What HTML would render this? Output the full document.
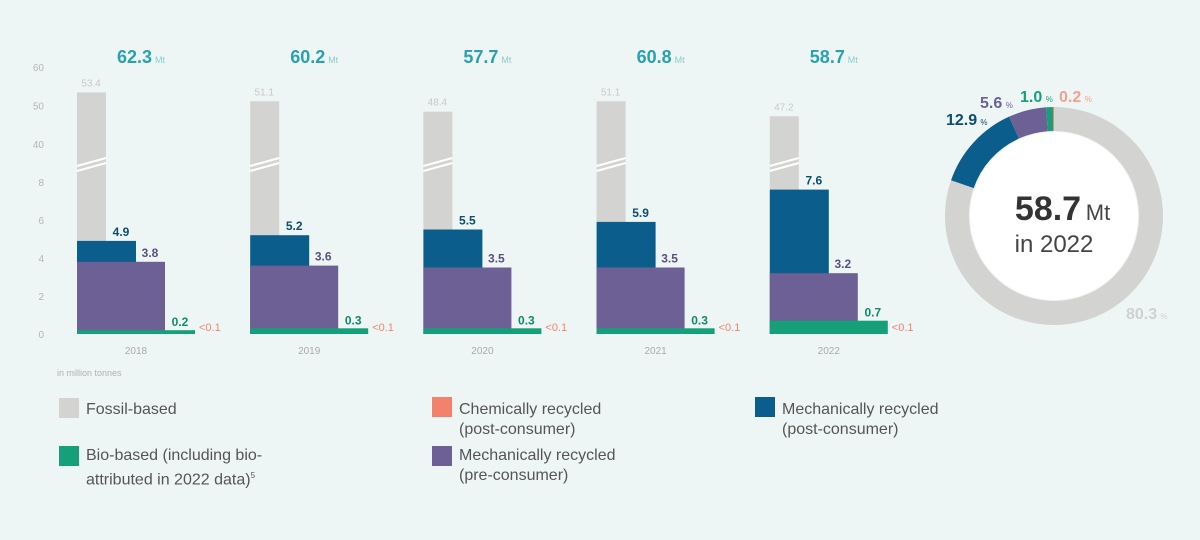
<!DOCTYPE html>
<html><head><meta charset="utf-8"><style>
body{margin:0;width:1200px;height:540px;background:#eef6f5;font-family:"Liberation Sans",sans-serif;overflow:hidden}
svg{display:block}
.leg{position:absolute;font-size:16px;color:#555;line-height:20px}
.sw{position:absolute;width:20px;height:20px}
</style></head><body>
<svg id="chart" width="1200" height="540" style="position:absolute;left:0;top:0"></svg>
<div class="sw" style="left:59px;top:398px;background:#d3d3d1"></div>
<div class="leg" style="left:86px;top:400px">Fossil-based</div>
<div class="sw" style="left:59px;top:446px;background:#16a07a"></div>
<div class="leg" style="left:86px;top:446px">Bio-based (including bio-<br>attributed in 2022 data)<sup style="font-size:8px">5</sup></div>
<div class="sw" style="left:432px;top:397px;background:#f2826b"></div>
<div class="leg" style="left:459px;top:400px">Chemically recycled<br>(post-consumer)</div>
<div class="sw" style="left:432px;top:446px;background:#6c6094"></div>
<div class="leg" style="left:459px;top:446px">Mechanically recycled<br>(pre-consumer)</div>
<div class="sw" style="left:755px;top:397px;background:#0b5e8c"></div>
<div class="leg" style="left:782px;top:400px">Mechanically recycled<br>(post-consumer)</div>
<script>
const years=["2018","2019","2020","2021","2022"];
const totals=[62.3,60.2,57.7,60.8,58.7];
const fossil=[53.4,51.1,48.4,51.1,47.2];
const mechPost=[4.9,5.2,5.5,5.9,7.6];
const mechPre=[3.8,3.6,3.5,3.5,3.2];
const bio=[0.2,0.3,0.3,0.3,0.7];
const chemLabel=["<0.1","<0.1","<0.1","<0.1","<0.1"];
const tickLow=[0,2,4,6,8];
const tickHigh=[40,50,60];
const donutVals=[80.3,12.9,5.6,1.0,0.2];
const donutLabels=["80.3","12.9","5.6","1.0","0.2"];
const NS="http://www.w3.org/2000/svg";
const svg=document.getElementById('chart');
function el(t,a,txt){const e=document.createElementNS(NS,t);for(const k in a)e.setAttribute(k,a[k]);if(txt!=null)e.textContent=txt;svg.appendChild(e);return e;}
function y(v){return v<=8?334-v*19:144-(v-40)*3.85;}
function gx(i){return 77+i*173.2;}
tickLow.concat(tickHigh).forEach(t=>{const e=el('text',{x:44,y:y(t)+4,'font-size':10,fill:'#b5b5b5','text-anchor':'end'},String(t));

});
years.forEach((yr,i)=>{const x=gx(i);
let r=el('rect',{x:x,y:y(fossil[i]),width:29,height:334-y(fossil[i]),fill:'#d3d3d1'});


let b=el('line',{x1:x,y1:166,x2:x+29,y2:158,stroke:'#fff','stroke-width':2});


let b2=el('line',{x1:x,y1:171,x2:x+29,y2:163,stroke:'#fff','stroke-width':2});


r=el('rect',{x:x,y:y(mechPost[i]),width:59,height:334-y(mechPost[i]),fill:'#0b5e8c'});


r=el('rect',{x:x,y:y(mechPre[i]),width:88,height:334-y(mechPre[i]),fill:'#6c6094'});


r=el('rect',{x:x,y:Math.min(y(bio[i]),331),width:118,height:334-Math.min(y(bio[i]),331),fill:'#16a07a'});


let t=el('text',{x:x+14,y:y(fossil[i])-6,'font-size':10,fill:'#c8c8c8','text-anchor':'middle'},fossil[i].toFixed(1));


t=el('text',{x:x+44,y:y(mechPost[i])-5,'font-size':12,'font-weight':'bold',fill:'#0b4e6e','text-anchor':'middle'},mechPost[i].toFixed(1));


t=el('text',{x:x+73,y:y(mechPre[i])-5,'font-size':12,'font-weight':'bold',fill:'#5a5080','text-anchor':'middle'},mechPre[i].toFixed(1));


t=el('text',{x:x+103,y:Math.min(y(bio[i]),331)-4,'font-size':12,'font-weight':'bold',fill:'#108a68','text-anchor':'middle'},bio[i].toFixed(1));


t=el('text',{x:x+122,y:331,'font-size':11,fill:'#f2826b'},chemLabel[i]);


t=el('text',{x:x+59,y:354,'font-size':10,fill:'#aaa','text-anchor':'middle'},yr);


t=el('text',{x:x+40,y:63,'font-size':18,'font-weight':'bold',fill:'#2aa0b0'},totals[i].toFixed(1));


t=el('text',{x:x+78,y:63,'font-size':9,fill:'#8cc'},'Mt');


});
let u=el('text',{x:57,y:376,'font-size':9,fill:'#b0b0b0'},'in million tonnes');


const cx=1054,cy=216,R=97,C=2*Math.PI*R;
const dcol=['#d3d3d1','#0b5e8c','#6c6094','#16a07a','#f2826b'];
const sum=donutVals.reduce((a,b)=>a+b,0);
let acc=0;
donutVals.forEach((v,i)=>{const len=v/sum*C;
const c=el('circle',{cx:cx,cy:cy,r:R,fill:'none',stroke:dcol[i],'stroke-width':24,'stroke-dasharray':len+' '+(C-len),'stroke-dashoffset':-acc,transform:'rotate(-90 '+cx+' '+cy+')'});


acc+=len;});
let ic=el('circle',{cx:cx,cy:cy,r:84,fill:'#fff'});


let ct=el('text',{x:cx-6,y:cy+4,'font-size':34,'font-weight':'bold',fill:'#333','text-anchor':'middle'},'58.7');


ct=el('text',{x:cx+44,y:cy+4,'font-size':22,fill:'#444','text-anchor':'middle'},'Mt');


ct=el('text',{x:cx,y:cy+36,'font-size':24,fill:'#444','text-anchor':'middle'},'in 2022');


const lpos=[[1126,319],[946,125],[980,108],[1020,102],[1059,102]];
const lcol=['#d0d0d0','#0b4e6e','#6c6094','#16a07a','#f2a090'];
donutLabels.forEach((s,i)=>{const t=el('text',{x:lpos[i][0],y:lpos[i][1],'font-size':16,'font-weight':'bold',fill:lcol[i]},s);


const p=el('text',{x:lpos[i][0]+s.length*8.6,y:lpos[i][1],'font-size':8,fill:lcol[i]},'%');

});
</script>
</body></html>
